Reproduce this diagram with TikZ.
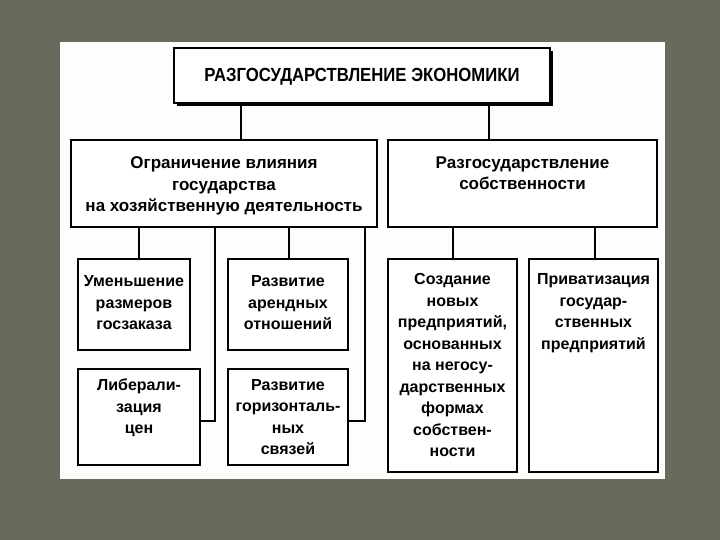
\documentclass[tikz,border=0pt]{standalone}
\usepackage{fontspec}
\setmainfont{Liberation Sans}
\newfontfamily\titlefont[FakeStretch=0.88]{Liberation Sans}
\usetikzlibrary{shadows}
\definecolor{bgcol}{RGB}{105,106,94}
\definecolor{panel}{RGB}{253,253,251}
\begin{document}
\begin{tikzpicture}[x=1pt,y=-1pt,
  box/.style={draw=black, line width=2.2pt, fill=white, rectangle, inner sep=0pt},
  conn/.style={draw=black, line width=1.5pt},
  txt/.style={font=\bfseries\fontsize{16}{21.5}\selectfont, align=center, inner sep=0pt, anchor=north},
  bigtxt/.style={font=\bfseries\fontsize{17}{21.5}\selectfont, align=center, inner sep=0pt, anchor=north}]
\useasboundingbox (0,0) rectangle (720,540);
\fill[bgcol] (0,0) rectangle (720,540);
\fill[panel] (60,42) rectangle (665,479);
% boxes
\node[box, minimum width=376pt, minimum height=55pt,
      general shadow={fill=black, shadow xshift=3pt, shadow yshift=-3pt}] (top) at (362,75.5) {};
\node[box, minimum width=306pt, minimum height=87pt] (L) at (224,183.5) {};
\node[box, minimum width=269pt, minimum height=87pt] (R) at (522.5,183.5) {};
\node[box, minimum width=112pt, minimum height=91pt] (A) at (134,304.5) {};
\node[box, minimum width=120pt, minimum height=91pt] (B) at (288,304.5) {};
\node[box, minimum width=122pt, minimum height=96pt] (C) at (139,417) {};
\node[box, minimum width=120pt, minimum height=96pt] (D) at (288,417) {};
\node[box, minimum width=129pt, minimum height=213pt] (E) at (452.5,365.5) {};
\node[box, minimum width=129pt, minimum height=213pt] (F) at (593.5,365.5) {};
% texts
\node[font=\titlefont\bfseries\fontsize{19}{22}\selectfont, inner sep=0pt] (tT) at (362,77) {РАЗГОСУДАРСТВЛЕНИЕ ЭКОНОМИКИ};
\node[bigtxt] (tL) at (224,156.6) {Ограничение влияния\\государства\\на хозяйственную деятельность};
\node[bigtxt] (tR) at (522.5,156.6) {Разгосударствление\\собственности};
\node[txt] (tA) at (134,275.3) {Уменьшение\\размеров\\госзаказа};
\node[txt] (tB) at (288,275.3) {Развитие\\арендных\\отношений};
\node[txt] (tC) at (139,378.8) {Либерали-\\зация\\цен};
\node[txt] (tD) at (288,378.8) {Развитие\\горизонталь-\\ных\\связей};
\node[txt] (tE) at (452.5,273.3) {Создание\\новых\\предприятий,\\основанных\\на негосу-\\дарственных\\формах\\собствен-\\ности};
\node[txt] (tF) at (593.5,273.3) {Приватизация\\государ-\\ственных\\предприятий};
% connectors
\draw[conn] (241,0 |- top.south) -- (241,0 |- L.north);
\draw[conn] (489,0 |- top.south) -- (489,0 |- R.north);
\draw[conn] (139,0 |- L.south) -- (139,0 |- A.north);
\draw[conn] (289,0 |- L.south) -- (289,0 |- B.north);
\draw[conn] (215,0 |- L.south) -- (215,421) -- (C.east |- 0,421);
\draw[conn] (365,0 |- L.south) -- (365,421) -- (D.east |- 0,421);
\draw[conn] (453,0 |- R.south) -- (453,0 |- E.north);
\draw[conn] (595,0 |- R.south) -- (595,0 |- F.north);
\end{tikzpicture}
\end{document}
